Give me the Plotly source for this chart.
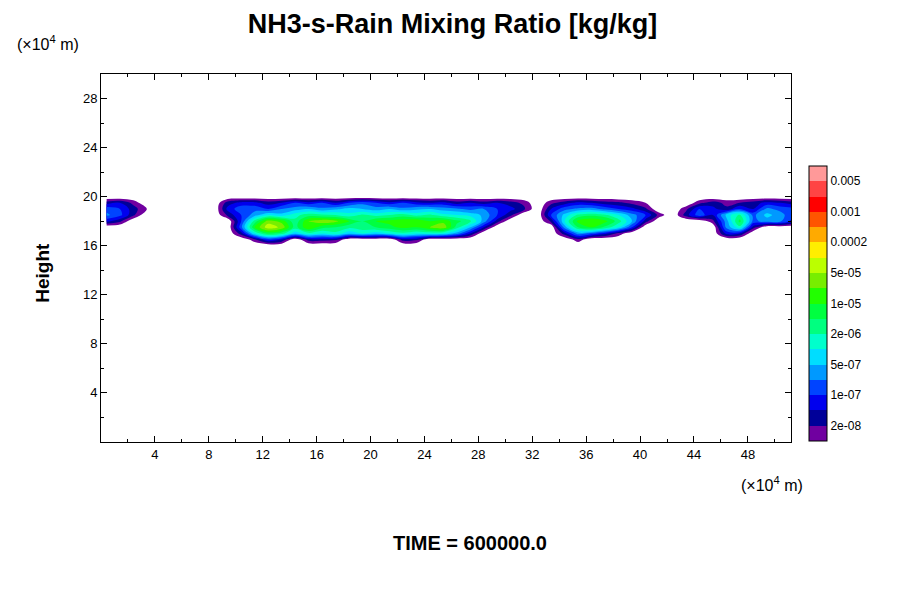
import numpy as np
import plotly.graph_objects as go

x_km = list(range(0, 52))          # x positions (x10^4 m)
y_h = [16.0, 16.5, 17.0, 17.5, 18.0, 18.5, 19.0, 19.5, 20.0]  # heights (x10^4 m)
# log10 of mixing ratio; 0 = no rain
def row(d):
    r = [0.0]*52
    for k, v in d.items():
        r[k] = v
    return r
log_q = [
 row({}),
 row({11:-7.8,12:-7,13:-7.3,15:-7.5,16:-7.5,17:-7.6,22:-7.5,23:-7.6,35:-7.8}),
 row({10:-7.5,11:-6,12:-5.2,13:-5.5,14:-6.2,15:-5.8,16:-6,17:-5.8,18:-6.2,19:-6,20:-6.2,21:-6,22:-5.8,23:-6,24:-5.9,25:-6,26:-6.5,27:-7.3,34:-7.5,35:-6.5,36:-6.8,37:-7.2,38:-7.8,46:-7.2,47:-7.3}),
 row({10:-6.8,11:-5,12:-4.1,13:-4.4,14:-5.5,15:-4.7,16:-5.2,17:-5.3,18:-5.6,19:-5.4,20:-5.3,21:-5.1,22:-4.9,23:-5,24:-4.7,25:-4.4,26:-5.5,27:-6.3,28:-7.3,34:-6.5,35:-5.3,36:-5.0,37:-5.4,38:-6,39:-7,46:-6.6,47:-5.8,48:-7.5}),
 row({0:-7.2,1:-7.6,10:-7,11:-5.5,12:-4.5,13:-4.8,14:-5.6,15:-4.7,16:-4.4,17:-4.6,18:-5,19:-5.3,20:-5,21:-4.9,22:-4.8,23:-4.7,24:-5,25:-4.8,26:-5.2,27:-5.6,28:-6.5,29:-7.5,33:-7.6,34:-6,35:-4.9,36:-4.7,37:-4.9,38:-5.5,39:-6.3,40:-7.5,45:-7.8,46:-6.5,47:-5.2,48:-6.8,49:-6.5,50:-6.6,51:-7.2}),
 row({0:-6.6,1:-6.9,2:-7.6,9:-7.6,10:-7,11:-6.5,12:-6,13:-6.2,14:-5.8,15:-5.5,16:-5.6,17:-5.7,18:-5.9,19:-5.6,20:-5.8,21:-5.7,22:-5.5,23:-5.8,24:-5.6,25:-5.9,26:-6,27:-6.1,28:-6.4,29:-7,30:-7.6,33:-7,34:-6.2,35:-5.6,36:-5.4,37:-5.6,38:-6,39:-6.5,40:-7,41:-7.8,43:-7.5,44:-6.8,45:-7.3,46:-6.2,47:-5.6,48:-6.8,49:-6.2,50:-6.5,51:-7}),
 row({0:-6.8,1:-7,2:-7.5,3:-8,9:-7.2,10:-6.8,11:-6.8,12:-7,13:-6.7,14:-6.5,15:-6.3,16:-6.6,17:-6.4,18:-6.2,19:-6.3,20:-6.5,21:-6.3,22:-6.6,23:-6.4,24:-6.3,25:-6.5,26:-6.6,27:-6.8,28:-6.7,29:-7,30:-7.2,31:-7.6,33:-7.3,34:-6.8,35:-6.6,36:-6.5,37:-6.8,38:-7,39:-7.2,40:-7.6,43:-7.8,44:-7,45:-7.2,46:-7.6,47:-7,48:-7.3,49:-6.6,50:-6.8,51:-7}),
 row({0:-7.5,1:-7.3,2:-7.8,4:-8,9:-7.5,10:-7.2,11:-7.2,12:-7.5,13:-7.3,14:-7,15:-7.2,16:-7,17:-7.3,18:-7,19:-6.8,20:-7,21:-7.2,22:-7,23:-7.2,24:-7.3,25:-7.2,26:-7.5,27:-7.3,28:-7.5,29:-7.3,30:-7.5,31:-7.8,33:-7.8,34:-7.5,35:-7.2,36:-7.3,37:-7.5,38:-7.6,39:-7.8,40:-8,44:-7.8,45:-7.5,46:-7.8,47:-7.7,48:-7.5,49:-7.2,50:-7.3,51:-7.5}),
 row({}),
]
bounds = [1e-8,2e-8,5e-8,1e-7,2e-7,5e-7,1e-6,2e-6,5e-6,1e-5,2e-5,5e-5,1e-4,2e-4,5e-4,1e-3,2e-3,5e-3,1e-2]
bin_colors = ['#7000a0','#000099','#0000ee','#0044ff','#0099ff','#00ddff','#00ffcc','#00ff80',
              '#00ff40','#22ff00','#77ee00','#bbff00','#ffee00','#ffaa00','#ff5500','#ff0000','#ff4444','#ff9999']
cb_labels = {1:'2e-08',3:'1e-07',5:'5e-07',7:'2e-06',9:'1e-05',11:'5e-05',13:'0.0002',15:'0.001',17:'0.005'}

L = np.array(log_q)
lb = np.log10(bounds)
Z = np.where(L == 0, -1.0, np.interp(L, lb, np.arange(len(bounds))))
yy = [15.5] + y_h + [20.5]
Z = np.vstack([np.full(52, -1.0), Z, np.full(52, -1.0)])
xx = [v + 0.4 for v in x_km]

n = len(bin_colors)
cs = [[0, 'white'], [1/(n+1), 'white']]
for i, c in enumerate(bin_colors):
    cs.append([(i+1)/(n+1), c]); cs.append([(i+2)/(n+1), c])

fig = go.Figure()
fig.add_trace(go.Contour(x=xx, y=yy, z=Z, zmin=-1, zmax=n, colorscale=cs, showscale=False,
    contours=dict(start=0, end=n-1, size=1, coloring='fill'), line=dict(width=0), hoverinfo='skip'))
cs2 = []
for i, c in enumerate(bin_colors):
    cs2.append([i/n, c]); cs2.append([(i+1)/n, c])
fig.add_trace(go.Scatter(x=[None], y=[None], mode='markers', showlegend=False,
    marker=dict(color=[0], cmin=0, cmax=n, colorscale=cs2, showscale=True,
        colorbar=dict(thickness=18, len=0.747, lenmode='fraction', y=0.003, yanchor='bottom',
            x=1.026, xanchor='left', xpad=0, ypad=0, outlinecolor='black', outlinewidth=1,
            tickvals=list(cb_labels.keys()), ticktext=list(cb_labels.values()), ticks='',
            tickfont=dict(family='Liberation Sans', size=12, color='black')))))
axstyle = dict(showgrid=False, zeroline=False, showline=True, linecolor='black', linewidth=1, mirror='ticks',
               ticks='inside', ticklen=6, tickcolor='black', tickfont=dict(family='Liberation Sans', size=13, color='black'),
               minor=dict(ticks='inside', ticklen=3, tickcolor='black'))
fig.update_xaxes(range=[0, 51.2], tickvals=list(range(4, 50, 4)), minor_dtick=2, minor_tick0=0, **axstyle)
fig.update_yaxes(range=[0, 30], tickvals=list(range(4, 30, 4)), minor_dtick=2, minor_tick0=0, **axstyle)
fig.update_layout(width=900, height=600, margin=dict(l=93, r=117, t=66, b=166), plot_bgcolor='white', paper_bgcolor='white',
    font=dict(family='Liberation Sans', color='black'),
    title=dict(text='<b>NH3-s-Rain Mixing Ratio [kg/kg]</b>', x=0.494, xanchor='center', y=0.974, yanchor='middle', font=dict(size=27)),
    annotations=[
        dict(text='(×10<sup>4</sup> m)', xref='paper', yref='paper', x=-0.125, y=1.085, xanchor='left', yanchor='middle', showarrow=False, font=dict(size=16)),
        dict(text='(×10<sup>4</sup> m)', xref='paper', yref='paper', x=1.02, y=-0.113, xanchor='right', yanchor='middle', showarrow=False, font=dict(size=16)),
        dict(text='<b>Height</b>', xref='paper', yref='paper', x=-0.084, y=0.46, textangle=-90, xanchor='center', yanchor='middle', showarrow=False, font=dict(size=19)),
        dict(text='<b>TIME = 600000.0</b>', xref='paper', yref='paper', x=0.535, y=-0.275, xanchor='center', yanchor='middle', showarrow=False, font=dict(size=20)),
    ])
fig.write_html('out.html')
